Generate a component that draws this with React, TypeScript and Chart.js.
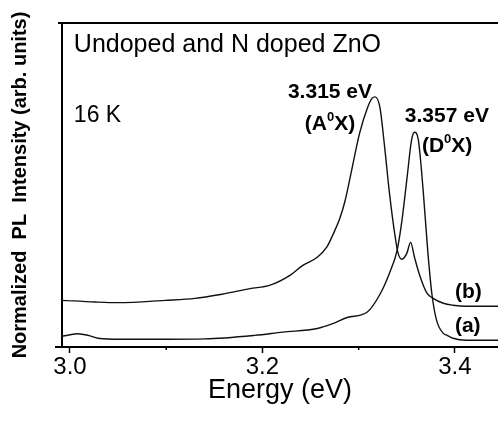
import React, { useEffect, useRef } from 'react';
import { Chart, registerables } from 'chart.js';

Chart.register(...registerables);

// ---------- data ----------
const energyA = [2.9917, 3.0, 3.008, 3.019, 3.029, 3.054, 3.099, 3.14, 3.192, 3.221, 3.257, 3.273, 3.288, 3.309, 3.322, 3.332, 3.34, 3.345, 3.35, 3.355, 3.358, 3.362, 3.367, 3.372, 3.376, 3.381, 3.388, 3.392, 3.398, 3.412, 3.4448];
const intensityA = [3.3, 3.8, 4.1, 3.6, 2.7, 2.4, 2.4, 2.5, 3.6, 4.6, 5.7, 7.2, 9.1, 10.8, 16.2, 22.8, 29.9, 39.1, 51.5, 63.9, 66.3, 63.9, 48.4, 28.9, 16.6, 8.2, 4.2, 3.6, 2.7, 2.1, 2.1];

const energyB = [2.9917, 3.026, 3.05, 3.099, 3.13, 3.158, 3.187, 3.208, 3.229, 3.242, 3.257, 3.267, 3.273, 3.281, 3.286, 3.291, 3.301, 3.309, 3.314, 3.317, 3.322, 3.327, 3.332, 3.338, 3.341, 3.345, 3.35, 3.354, 3.358, 3.364, 3.371, 3.377, 3.388, 3.398, 3.412, 3.4448];
const intensityB = [14.4, 13.9, 13.7, 14.4, 15.0, 16.3, 18.0, 19.1, 22.2, 25.2, 27.7, 30.9, 34.5, 40.2, 45.3, 52.1, 66.0, 73.7, 76.8, 77.2, 74.1, 61.7, 47.5, 33.9, 28.9, 27.1, 28.9, 32.3, 27.7, 21.6, 16.6, 15.1, 13.5, 12.9, 12.6, 12.6];

const xMajorTicks = [3.0, 3.2, 3.4];
const xMinorTicks = [3.1, 3.3];
const xMin = 2.9917;
const xMax = 3.4448;
const yMin = 0;
const yMax = 100;

const xTitle = 'Energy (eV)';
const yTitle = 'Normalized  PL  Intensity (arb. units)';

const FAMILY = '"Liberation Sans", Arial, Helvetica, sans-serif';

type Part = { t: string; size: number; bold?: boolean; rise?: number };
type Note = { x: number; y: number; parts: Part[] };

const notes: Note[] = [
  { x: 3.004, y: 91.1, parts: [{ t: 'Undoped and N doped ZnO', size: 25 }] },
  { x: 3.004, y: 69.5, parts: [{ t: '16 K', size: 23 }] },
  { x: 3.2265, y: 76.8, parts: [{ t: '3.315 eV', size: 21, bold: true }] },
  { x: 3.244, y: 66.9, parts: [{ t: '(A', size: 21, bold: true }, { t: '0', size: 13, bold: true, rise: 9 }, { t: 'X)', size: 21, bold: true }] },
  { x: 3.348, y: 69.5, parts: [{ t: '3.357 eV', size: 21, bold: true }] },
  { x: 3.3657, y: 60.2, parts: [{ t: '(D', size: 21, bold: true }, { t: '0', size: 13, bold: true, rise: 9 }, { t: 'X)', size: 21, bold: true }] },
  { x: 3.4, y: 15.0, parts: [{ t: '(b)', size: 21, bold: true }] },
  { x: 3.4, y: 4.5, parts: [{ t: '(a)', size: 21, bold: true }] },
];

const isMajor = (v: number) => xMajorTicks.some((m) => Math.abs(m - v) < 1e-6);

const decorPlugin = {
  id: 'decor',
  afterDraw(chart: any) {
    const { ctx, chartArea, scales } = chart;
    const xs = scales.x;
    const ys = scales.y;
    ctx.save();
    ctx.strokeStyle = '#000';
    // top frame line
    ctx.lineWidth = 2;
    ctx.beginPath();
    ctx.moveTo(chartArea.left - 4, chartArea.top);
    ctx.lineTo(chartArea.right, chartArea.top);
    ctx.stroke();
    // small overshoot of bottom axis to the left
    ctx.beginPath();
    ctx.moveTo(chartArea.left - 7, chartArea.bottom);
    ctx.lineTo(chartArea.left, chartArea.bottom);
    ctx.stroke();
    // minor ticks
    ctx.lineWidth = 1.5;
    for (const v of xMinorTicks) {
      const px = xs.getPixelForValue(v);
      ctx.beginPath();
      ctx.moveTo(px, chartArea.bottom);
      ctx.lineTo(px, chartArea.bottom + 3);
      ctx.stroke();
    }
    // annotations
    ctx.fillStyle = '#000';
    ctx.textBaseline = 'alphabetic';
    ctx.textAlign = 'left';
    for (const n of notes) {
      let px = xs.getPixelForValue(n.x);
      const py = ys.getPixelForValue(n.y);
      for (const p of n.parts) {
        ctx.font = `${p.bold ? 'bold ' : ''}${p.size}px ${FAMILY}`;
        ctx.fillText(p.t, px, py - (p.rise || 0));
        px += ctx.measureText(p.t).width;
      }
    }
    ctx.restore();
  },
};

export default function App() {
  const ref = useRef<HTMLCanvasElement | null>(null);

  useEffect(() => {
    if (!ref.current) return;
    const chart = new Chart(ref.current, {
      type: 'line',
      data: {
        datasets: [
          {
            label: '(a)',
            data: energyA.map((x, i) => ({ x, y: intensityA[i] })),
            borderColor: '#111',
            borderWidth: 1.4,
            pointRadius: 0,
            fill: false,
            cubicInterpolationMode: 'monotone',
          },
          {
            label: '(b)',
            data: energyB.map((x, i) => ({ x, y: intensityB[i] })),
            borderColor: '#111',
            borderWidth: 1.4,
            pointRadius: 0,
            fill: false,
            cubicInterpolationMode: 'monotone',
          },
        ],
      },
      options: {
        responsive: false,
        devicePixelRatio: 1,
        animation: false,
        layout: { padding: { top: 23, right: 0, left: 0, bottom: 0 } },
        plugins: { legend: { display: false }, tooltip: { enabled: false } },
        scales: {
          x: {
            type: 'linear',
            min: xMin,
            max: xMax,
            afterBuildTicks: (s: any) => {
              s.ticks = [...xMajorTicks, ...xMinorTicks].sort((a, b) => a - b).map((v) => ({ value: v }));
            },
            afterFit: (s: any) => {
              s.height = 76;
            },
            ticks: {
              autoSkip: false,
              maxRotation: 0,
              padding: 0,
              color: '#000',
              font: { size: 24, family: FAMILY },
              callback: (v: any) => (isMajor(Number(v)) ? Number(v).toFixed(1) : ''),
            },
            grid: {
              display: true,
              drawOnChartArea: false,
              drawTicks: true,
              tickLength: 6,
              tickWidth: 1.5,
              tickColor: (c: any) => (c.tick && isMajor(c.tick.value) ? '#000' : 'rgba(0,0,0,0)'),
            },
            border: { display: true, color: '#000', width: 2 },
            title: {
              display: true,
              text: xTitle,
              color: '#000',
              font: { size: 27, family: FAMILY },
              padding: { top: 0, bottom: 16 },
            },
          },
          y: {
            type: 'linear',
            min: yMin,
            max: yMax,
            afterFit: (s: any) => {
              s.width = 62;
            },
            ticks: { display: false },
            grid: { display: false },
            border: { display: true, color: '#000', width: 2 },
            title: {
              display: true,
              text: yTitle,
              color: '#000',
              font: { size: 20, weight: 'bold', family: FAMILY },
              padding: { top: 8, bottom: 0 },
            },
          },
        },
      },
      plugins: [decorPlugin],
    } as any);
    return () => chart.destroy();
  }, []);

  return (
    <div style={{ position: 'absolute', left: 0, top: 0, width: 498, height: 423, background: '#fff' }}>
      <canvas ref={ref} width={498} height={423} style={{ display: 'block', width: 498, height: 423 }} />
    </div>
  );
}
